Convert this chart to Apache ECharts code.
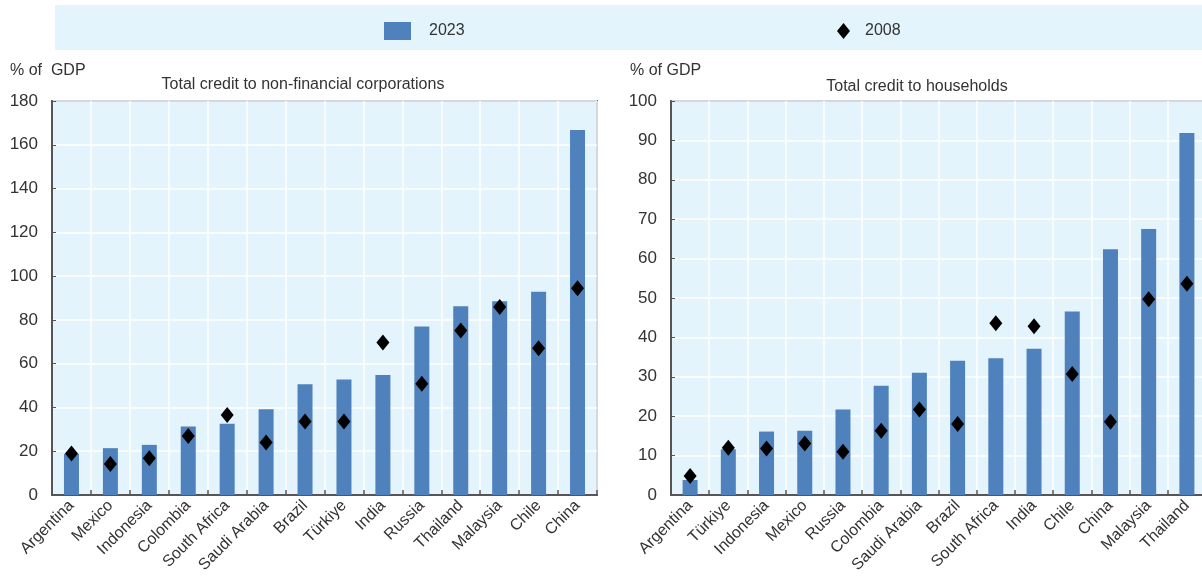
<!DOCTYPE html>
<html><head><meta charset="utf-8">
<script src="https://cdn.jsdelivr.net/npm/echarts@6/dist/echarts.min.js"></script>
<style>html,body{margin:0;padding:0;background:#fff}#c{width:1202px;height:581px}</style>
</head><body><div id="c"></div>
<script>
const catsCorp = ['Argentina','Mexico','Indonesia','Colombia','South Africa','Saudi Arabia','Brazil','Türkiye','India','Russia','Thailand','Malaysia','Chile','China'];
const corp2023 = [18.8,21.4,22.9,31.3,32.6,39.2,50.6,52.8,54.8,77.0,86.2,88.5,92.9,166.7];
const corp2008 = [19.0,14.2,16.8,27.0,36.6,24.0,33.6,33.6,69.7,50.8,75.2,85.9,67.0,94.4];

const catsHh = ['Argentina','Türkiye','Indonesia','Mexico','Russia','Colombia','Saudi Arabia','Brazil','South Africa','India','Chile','China','Malaysia','Thailand'];
const hh2023 = [3.8,11.6,16.1,16.3,21.7,27.7,31.0,34.1,34.7,37.1,46.6,62.4,67.5,91.9];
const hh2008 = [4.8,12.0,11.8,13.1,11.0,16.3,21.7,18.0,43.6,42.8,30.7,18.6,49.7,53.6];

const FONT = '"Liberation Sans",Arial,sans-serif';
const TXT = '#333';
const BAR = '#4f81bd';
const chart = echarts.init(document.getElementById('c'));

function xAx(idx, cats){
  return {type:'category', gridIndex:idx, data:cats,
    axisLine:{show:true, lineStyle:{color:'#555', width:2}},
    axisTick:{show:true, inside:true, length:5, lineStyle:{color:'#555', width:1.5}},
    splitLine:{show:true, lineStyle:{color:'#fff', width:1.5}},
    axisLabel:{rotate:45, color:TXT, fontFamily:FONT, fontSize:16, margin:8, interval:0}};
}
function yAx(idx, max, interval){
  return {type:'value', gridIndex:idx, min:0, max:max, interval:interval,
    axisLine:{show:true, lineStyle:{color:'#555', width:2}},
    axisTick:{show:true, inside:true, length:4, lineStyle:{color:'#555'}},
    splitLine:{show:true, lineStyle:{color:'#fff', width:1.5}},
    axisLabel:{color:TXT, fontFamily:FONT, fontSize:17, margin:14}};
}

chart.setOption({
  animation:false,
  textStyle:{fontFamily:FONT},
  graphic:[
    {type:'rect', shape:{x:55, y:5, width:1147, height:45}, style:{fill:'#e3f4fc'}, z:-10}
  ],
  legend:[
    {data:[{name:'2023', icon:'rect'}], left:384, top:22, padding:0, itemWidth:27, itemHeight:18, itemGap:0,
     textStyle:{color:TXT, fontFamily:FONT, fontSize:16, padding:[0,0,0,13]}},
    {data:[{name:'2008', icon:'diamond', itemStyle:{color:'#000', opacity:1}}], left:837, top:23, padding:0, itemWidth:13, itemHeight:16,
     textStyle:{color:TXT, fontFamily:FONT, fontSize:16, padding:[0,0,0,10]}}
  ],
  title:[
    {text:'% of  GDP', left:10, top:63, padding:0, textStyle:{color:TXT, fontFamily:FONT, fontSize:16, fontWeight:'normal'}},
    {text:'Total credit to non-financial corporations', left:303, top:77, padding:0, textAlign:'center', textStyle:{color:TXT, fontFamily:FONT, fontSize:16, fontWeight:'normal'}},
    {text:'% of GDP', left:630, top:63, padding:0, textStyle:{color:TXT, fontFamily:FONT, fontSize:16, fontWeight:'normal'}},
    {text:'Total credit to households', left:917, top:79, padding:0, textAlign:'center', textStyle:{color:TXT, fontFamily:FONT, fontSize:16, fontWeight:'normal'}}
  ],
  grid:[
    {left:52, top:101, width:545, height:394, show:true, backgroundColor:'#e3f4fc', borderColor:'#666', borderWidth:2, outerBoundsMode:'none'},
    {left:671, top:101, width:535, height:394, show:true, backgroundColor:'#e3f4fc', borderColor:'#666', borderWidth:2, outerBoundsMode:'none'}
  ],
  xAxis:[xAx(0, catsCorp), xAx(1, catsHh)],
  yAxis:[yAx(0, 180, 20), yAx(1, 100, 10)],
  series:[
    {name:'2023', type:'bar', xAxisIndex:0, yAxisIndex:0, data:corp2023, barWidth:15, itemStyle:{color:BAR}},
    {name:'2008', type:'scatter', xAxisIndex:0, yAxisIndex:0, data:corp2008, symbol:'diamond', symbolSize:[13,16], itemStyle:{color:'#000', opacity:1}, z:5},
    {name:'2023', type:'bar', xAxisIndex:1, yAxisIndex:1, data:hh2023, barWidth:15, itemStyle:{color:BAR}},
    {name:'2008', type:'scatter', xAxisIndex:1, yAxisIndex:1, data:hh2008, symbol:'diamond', symbolSize:[13,16], itemStyle:{color:'#000', opacity:1}, z:5}
  ]
});
</script></body></html>
